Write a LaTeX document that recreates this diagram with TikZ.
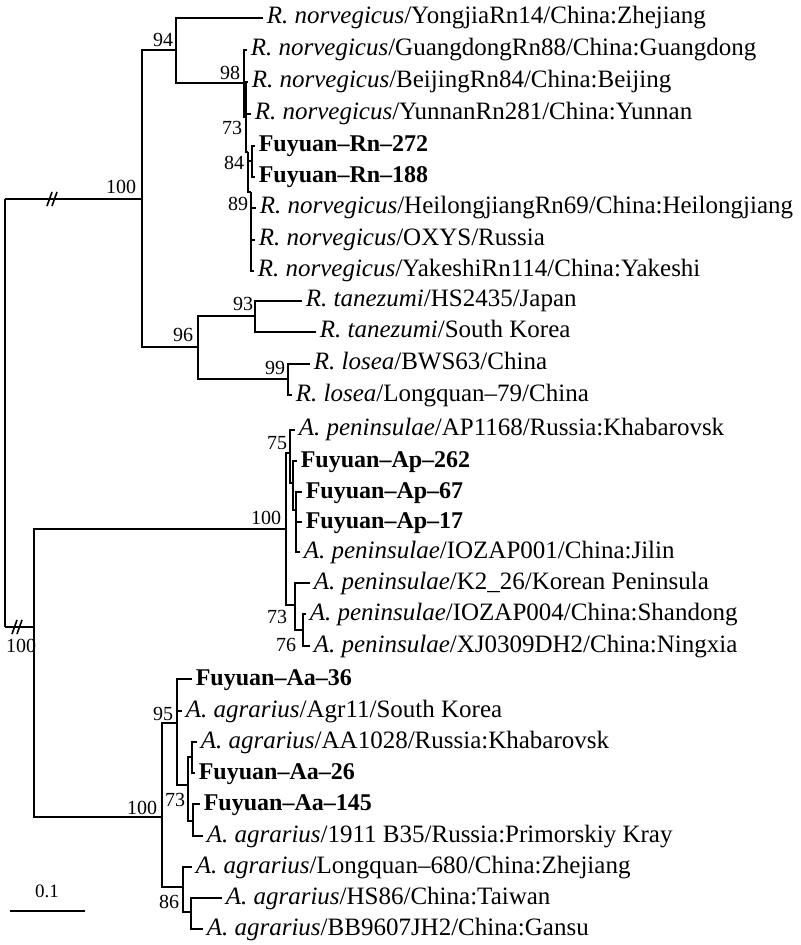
\documentclass[tikz,border=0pt]{standalone}
\usepackage{fontspec}
\setmainfont{Liberation Serif}
\newcommand{\rnorv}{\textit{R. norvegicus}}
\newcommand{\rtan}{\textit{R. tanezumi}}
\newcommand{\rlos}{\textit{R. losea}}
\newcommand{\apen}{\textit{A. peninsulae}}
\newcommand{\aagr}{\textit{A. agrarius}}
\tikzset{
  leaf/.style={anchor=west, inner xsep=1.5pt, inner ysep=0pt, text height=8.5pt, text depth=2.5pt, font=\fontsize{12.5}{14}\selectfont},
  fy/.style={leaf, font=\fontsize{12}{14}\selectfont\bfseries},
  boot/.style={inner sep=0pt, font=\fontsize{10}{12}\selectfont},
  br/.style={line width=0.8pt},
}
\begin{document}
\begin{tikzpicture}[x=0.5pt,y=-0.5pt,br]
\useasboundingbox (0,0) rectangle (800,945);

\coordinate (rt) at (5,199);
\coordinate (rb) at (5,627);
\coordinate (rat) at (142,199);
\coordinate (n94) at (176,50);
\coordinate (n98) at (244,83);
\coordinate (n73r) at (246,117);
\coordinate (n84) at (248,152);
\coordinate (nfr) at (252,161);
\coordinate (n89) at (251,192);
\coordinate (n96) at (198,347);
\coordinate (n93) at (255,316);
\coordinate (n99) at (288,379);
\coordinate (apo) at (34,627);
\coordinate (nap) at (286,529);
\coordinate (n75) at (290,453);
\coordinate (nap2) at (293,483);
\coordinate (nap3) at (296,510);
\coordinate (n73p) at (295,605);
\coordinate (n76) at (303,630);
\coordinate (naa) at (162,817);
\coordinate (n95) at (177,723);
\coordinate (n73a) at (188,785);
\coordinate (naa2) at (192,757);
\coordinate (naa3) at (193,821);
\coordinate (n86) at (183,887);
\coordinate (naa4) at (191,912);
\coordinate (brk1) at (52,199);
\coordinate (brk2) at (17,627);
\coordinate (sb1) at (10,911);
\coordinate (sb2) at (85,911);

\node[leaf] (yongjia) at (263,18) {\rnorv/YongjiaRn14/China:Zhejiang};
\node[leaf] (guang) at (247,50) {\rnorv/GuangdongRn88/China:Guangdong};
\node[leaf] (beijing) at (248,82) {\rnorv/BeijingRn84/China:Beijing};
\node[leaf] (yunnan) at (251,114) {\rnorv/YunnanRn281/China:Yunnan};
\node[fy] (rn272) at (255,146) {Fuyuan--Rn--272};
\node[fy] (rn188) at (255,177) {Fuyuan--Rn--188};
\node[leaf] (heilong) at (256,208) {\rnorv/HeilongjiangRn69/China:Heilongjiang};
\node[leaf] (oxys) at (255,240) {\rnorv/OXYS/Russia};
\node[leaf] (yakeshi) at (254,271) {\rnorv/YakeshiRn114/China:Yakeshi};
\node[leaf] (hs2435) at (302,301) {\rtan/HS2435/Japan};
\node[leaf] (skorea) at (316,332) {\rtan/South Korea};
\node[leaf] (bws63) at (310,364) {\rlos/BWS63/China};
\node[leaf] (lq79) at (292,395) {\rlos/Longquan--79/China};
\node[leaf] (ap1168) at (295,430) {\apen/AP1168/Russia:Khabarovsk};
\node[fy] (ap262) at (297,461) {Fuyuan--Ap--262};
\node[fy] (ap67) at (302,492) {Fuyuan--Ap--67};
\node[fy] (ap17) at (302,522) {Fuyuan--Ap--17};
\node[leaf] (iozap1) at (300,552) {\apen/IOZAP001/China:Jilin};
\node[leaf] (k226) at (310,583) {\apen/K2\_26/Korean Peninsula};
\node[leaf] (iozap4) at (306,614) {\apen/IOZAP004/China:Shandong};
\node[leaf] (xj0309) at (310,646) {\apen/XJ0309DH2/China:Ningxia};
\node[fy] (aa36) at (192,679) {Fuyuan--Aa--36};
\node[leaf] (agr11) at (182,711) {\aagr/Agr11/South Korea};
\node[leaf] (aa1028) at (197,742) {\aagr/AA1028/Russia:Khabarovsk};
\node[fy] (aa26) at (195,773) {Fuyuan--Aa--26};
\node[fy] (aa145) at (200,804) {Fuyuan--Aa--145};
\node[leaf] (b35) at (203,836) {\aagr/1911 B35/Russia:Primorskiy Kray};
\node[leaf] (lq680) at (192,867) {\aagr/Longquan--680/China:Zhejiang};
\node[leaf] (hs86) at (222,898) {\aagr/HS86/China:Taiwan};
\node[leaf] (bb9607) at (203,929) {\aagr/BB9607JH2/China:Gansu};

\draw (rt) -- (rb) (rt) -- (rat);
\draw (rat) |- (n94) (rat) |- (n96);
\draw (n94) |- (yongjia.west) (n94) |- (n98);
\draw (n98) |- (guang.west) (n98) |- (n73r);
\draw (n73r) |- (beijing.west) (n73r) |- (yunnan.west) (n73r) |- (n84);
\draw (n84) |- (nfr) (n84) |- (n89);
\draw (nfr) |- (rn272.west) (nfr) |- (rn188.west);
\draw (n89) |- (heilong.west) (n89) |- (oxys.west) (n89) |- (yakeshi.west);
\draw (n96) |- (n93) (n96) |- (n99);
\draw (n93) |- (hs2435.west) (n93) |- (skorea.west);
\draw (n99) |- (bws63.west) (n99) |- (lq79.west);
\draw (rb) -- (apo);
\draw (apo) |- (nap) (apo) |- (naa);
\draw (nap) |- (n75) (nap) |- (n73p);
\draw (n75) |- (ap1168.west) (n75) |- (nap2);
\draw (nap2) |- (ap262.west) (nap2) |- (nap3);
\draw (nap3) |- (ap67.west) (nap3) |- (ap17.west) (nap3) |- (iozap1.west);
\draw (n73p) |- (k226.west) (n73p) |- (n76);
\draw (n76) |- (iozap4.west) (n76) |- (xj0309.west);
\draw (naa) |- (n95) (naa) |- (n86);
\draw (n95) |- (aa36.west) (n95) |- (agr11.west) (n95) |- (n73a);
\draw (n73a) |- (naa2) (n73a) |- (naa3);
\draw (naa2) |- (aa1028.west) (naa2) |- (aa26.west);
\draw (naa3) |- (aa145.west) (naa3) |- (b35.west);
\draw (n86) |- (lq680.west) (n86) |- (naa4);
\draw (naa4) |- (hs86.west) (naa4) |- (bb9607.west);

\draw (brk1) ++(-5,7) -- ++(5,-14) (brk1) ++(0,7) -- ++(5,-14);
\draw (brk2) ++(-5,7) -- ++(5,-14) (brk2) ++(0,7) -- ++(5,-14);

\node[boot] (b100r) at (121,187) {100};
\node[boot] (b94) at (163,40) {94};
\node[boot] (b98) at (230,73) {98};
\node[boot] (b73r) at (232,128) {73};
\node[boot] (b84) at (234,163) {84};
\node[boot] (b89) at (238,204) {89};
\node[boot] (b96) at (183,335) {96};
\node[boot] (b93) at (243,304) {93};
\node[boot] (b99) at (275,368) {99};
\node[boot] (b100a) at (21,646) {100};
\node[boot] (b100p) at (266,518) {100};
\node[boot] (b75) at (277,443) {75};
\node[boot] (b73p) at (277,617) {73};
\node[boot] (b76) at (286,645) {76};
\node[boot] (b100g) at (142,808) {100};
\node[boot] (b95) at (163,714) {95};
\node[boot] (b73g) at (175,800) {73};
\node[boot] (b86) at (169,902) {86};

\draw (sb1) -- (sb2);
\node[boot, font=\fontsize{9.5}{11}\selectfont] (sbl) at (47,891) {0.1};
\end{tikzpicture}
\end{document}
